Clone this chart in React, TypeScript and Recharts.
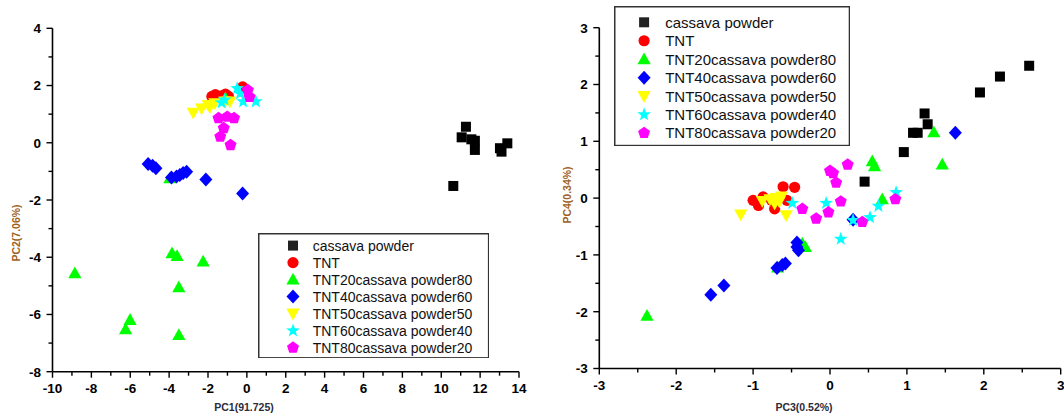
import React from 'react';
import { ScatterChart, Scatter, XAxis, YAxis, Legend } from 'recharts';

type Pt = { x: number; y: number };
const pts = (a: number[][]): Pt[] => a.map(([x, y]) => ({ x, y }));

// series info shared by both plots
const seriesNames = [
  'cassava powder',
  'TNT',
  'TNT20cassava powder80',
  'TNT40cassava powder60',
  'TNT50cassava powder50',
  'TNT60cassava powder40',
  'TNT80cassava powder20',
];
const seriesColors = ['#000000', '#ff0000', '#00ff00', '#0000ff', '#ffff00', '#00ffff', '#ff00ff'];
const seriesShapes = ['square', 'circle', 'triangle', 'diamond', 'triangleDown', 'star', 'pentagon'];

// PC1 / PC2 scores
const cassava12 = pts([[11.27, 0.56], [11.05, 0.19], [11.73, 0.07], [11.73, -0.25], [11.55, 0.12], [13.02, -0.19], [13.4, -0.02], [13.1, -0.31], [10.62, -1.51]]);
const tnt12 = pts([[-1.8, 1.62], [-1.62, 1.68], [-1.45, 1.6], [-1.3, 1.64], [-1.1, 1.7], [-0.95, 1.62], [-1.0, 1.56], [-0.22, 1.95]]);
const t20c80_12 = pts([[-8.85, -4.56], [-3.85, -3.86], [-3.59, -3.96], [-2.25, -4.15], [-3.5, -5.05], [-6.01, -6.19], [-6.24, -6.52], [-3.5, -6.72], [-3.96, -1.24], [-1.1, 1.55]]);
const t40c60_12 = pts([[-5.08, -0.74], [-4.85, -0.8], [-4.68, -0.89], [-3.88, -1.21], [-3.62, -1.18], [-3.45, -1.13], [-3.28, -1.06], [-3.1, -1.01], [-2.11, -1.28], [-0.22, -1.77]]);
const t50c50_12 = pts([[-2.76, 1.05], [-2.33, 1.2], [-1.99, 1.32], [-1.65, 1.38], [-1.13, 1.44], [-0.87, 1.44], [-1.9, 1.25]]);
const t60c40_12 = pts([[-1.3, 1.4], [-1.15, 1.5], [-0.5, 1.9], [-0.35, 1.72], [-0.19, 1.44], [0.46, 1.44]]);
const t80c20_12 = pts([[0.05, 1.84], [0.14, 1.6], [-1.46, 0.86], [-1.01, 0.91], [-0.66, 0.86], [-1.19, 0.51], [-1.37, 0.21], [-0.84, -0.08]]);

// PC3 / PC4 scores
const cassava34 = pts([[2.59, 2.33], [2.21, 2.14], [1.95, 1.86], [1.23, 1.49], [1.27, 1.3], [1.08, 1.15], [1.14, 1.15], [0.96, 0.81], [0.45, 0.29]]);
const tnt34 = pts([[-1.0, -0.04], [-0.93, -0.13], [-0.87, 0.02], [-0.72, -0.19], [-0.61, 0.2], [-0.46, 0.19], [-0.56, -0.04], [-0.76, -0.04]]);
const t20c80_34 = pts([[-2.38, -2.07], [-0.68, -1.22], [-0.32, -0.86], [-0.36, -0.8], [0.55, 0.65], [0.58, 0.56], [0.68, -0.02], [1.35, 1.16], [1.46, 0.59]]);
const t40c60_34 = pts([[-1.55, -1.7], [-1.38, -1.54], [-0.69, -1.23], [-0.62, -1.18], [-0.58, -1.15], [-0.43, -0.78], [-0.41, -0.92], [-0.43, -0.86], [0.3, -0.38], [1.63, 1.15]]);
const t50c50_34 = pts([[-1.16, -0.29], [-0.88, -0.05], [-0.78, -0.02], [-0.7, 0.0], [-0.63, 0.03], [-0.72, -0.1], [-0.57, -0.3], [-0.66, -0.06]]);
const t60c40_34 = pts([[-0.49, -0.09], [-0.05, -0.09], [0.14, -0.72], [0.3, -0.39], [0.52, -0.34], [0.63, -0.14], [0.86, 0.1]]);
const t80c20_34 = pts([[0.0, 0.48], [0.04, 0.44], [0.08, 0.27], [0.23, 0.59], [0.14, -0.06], [-0.02, -0.25], [-0.18, -0.36], [-0.36, -0.19], [0.42, -0.42], [0.85, -0.02]]);

const series12 = [cassava12, tnt12, t20c80_12, t40c60_12, t50c50_12, t60c40_12, t80c20_12];
const series34 = [cassava34, tnt34, t20c80_34, t40c60_34, t50c50_34, t60c40_34, t80c20_34];

// ticks (every minor position, labels only on majors)
const pc1Ticks = [-10, -9, -8, -7, -6, -5, -4, -3, -2, -1, 0, 1, 2, 3, 4, 5, 6, 7, 8, 9, 10, 11, 12, 13, 14];
const pc2Ticks = [-8, -7, -6, -5, -4, -3, -2, -1, 0, 1, 2, 3, 4];
const pc34Ticks = [-3, -2.5, -2, -1.5, -1, -0.5, 0, 0.5, 1, 1.5, 2, 2.5, 3];

const FONT = '"Liberation Sans", Arial, sans-serif';
const TS = 6;
const TM = 5.5;

function marker(kind: string, cx: number, cy: number, color: string, key?: string) {
  const r = 6;
  switch (kind) {
    case 'square':
      return <rect key={key} x={cx - 5} y={cy - 5} width={10} height={10} fill={color} />;
    case 'circle':
      return <circle key={key} cx={cx} cy={cy} r={5.6} fill={color} />;
    case 'triangle':
      return <polygon key={key} points={`${cx},${cy - 6.8} ${cx + 6.6},${cy + 5} ${cx - 6.6},${cy + 5}`} fill={color} />;
    case 'triangleDown':
      return <polygon key={key} points={`${cx},${cy + 6.8} ${cx + 6.6},${cy - 5} ${cx - 6.6},${cy - 5}`} fill={color} />;
    case 'diamond':
      return <polygon key={key} points={`${cx},${cy - 7} ${cx + 6.5},${cy} ${cx},${cy + 7} ${cx - 6.5},${cy}`} fill={color} />;
    case 'star': {
      const p: string[] = [];
      for (let i = 0; i < 10; i++) {
        const rr = i % 2 === 0 ? 7.2 : 2.9;
        const a = -Math.PI / 2 + (i * Math.PI) / 5;
        p.push(`${cx + rr * Math.cos(a)},${cy + rr * Math.sin(a)}`);
      }
      return <polygon key={key} points={p.join(' ')} fill={color} />;
    }
    default: {
      const p: string[] = [];
      for (let i = 0; i < 5; i++) {
        const a = -Math.PI / 2 + (i * 2 * Math.PI) / 5;
        p.push(`${cx + r * 1.05 * Math.cos(a)},${cy + r * 1.05 * Math.sin(a)}`);
      }
      return <polygon key={key} points={p.join(' ')} fill={color} />;
    }
  }
}

const xTick = (isMajor: (v: number) => boolean) => (props: any) => {
  const { x, y, payload } = props;
  const v = payload.value;
  const major = isMajor(v);
  const ay = y - TS - TM;
  return (
    <g>
      <line x1={x} x2={x} y1={ay} y2={ay + (major ? 6 : 4)} stroke="#000" strokeWidth={1.4} />
      {major && (
        <text x={x} y={y} dy="0.71em" textAnchor="middle" fontSize={13.5} fontWeight={700} fontFamily={FONT} fill="#000">
          {v}
        </text>
      )}
    </g>
  );
};

const yTick = (isMajor: (v: number) => boolean) => (props: any) => {
  const { x, y, payload } = props;
  const v = payload.value;
  const major = isMajor(v);
  const ax = x + TS + TM;
  return (
    <g>
      <line x1={ax} x2={ax - (major ? 6 : 4)} y1={y} y2={y} stroke="#000" strokeWidth={1.4} />
      {major && (
        <text x={x} y={y} dy="0.36em" textAnchor="end" fontSize={13.5} fontWeight={700} fontFamily={FONT} fill="#000">
          {v}
        </text>
      )}
    </g>
  );
};

const axisTitle = (text: string, cx: number, cy: number, color: string, vertical = false) => () => (
  <text
    x={cx}
    y={cy}
    dy="0.35em"
    textAnchor="middle"
    fontSize={10.5}
    fontWeight={700}
    fontFamily={FONT}
    fill={color}
    transform={vertical ? `rotate(-90, ${cx}, ${cy})` : undefined}
  >
    {text}
  </text>
);

const legendBox = (w: number, h: number, firstRow: number, step: number, mx: number, tx: number, fs: number) => () => (
  <svg width={w} height={h} style={{ display: 'block' }}>
    <rect x={0.75} y={0.75} width={w - 1.5} height={h - 1.5} fill="#fff" stroke="#333" strokeWidth={1.5} />
    {seriesNames.map((n, i) => (
      <g key={n}>
        {marker(seriesShapes[i], mx, firstRow + i * step, i === 0 ? '#222' : seriesColors[i])}
        <text x={tx} y={firstRow + i * step} dy="0.36em" fontSize={fs} fontFamily={FONT} fill="#111">
          {n}
        </text>
      </g>
    ))}
  </svg>
);

const axisLine = { stroke: '#000', strokeWidth: 1.6 };

export default function App() {
  return (
    <div style={{ position: 'absolute', left: 0, top: 0, width: 1064, height: 416, background: '#fff' }}>
      <div style={{ position: 'absolute', left: 0, top: 0 }}>
        <ScatterChart width={540} height={416} margin={{ top: 28.3, right: 21, bottom: 14.3, left: 7.5 }}>
          <XAxis
            type="number"
            dataKey="x"
            domain={[-10, 14]}
            ticks={pc1Ticks}
            interval={0}
            height={30}
            tickSize={TS}
            tickMargin={TM}
            tickLine={false}
            axisLine={axisLine}
            tick={xTick((v) => v % 2 === 0)}
            label={{ content: axisTitle('PC1(91.725)', 244, 407, '#2b2b3a') }}
          />
          <YAxis
            type="number"
            dataKey="y"
            domain={[-8, 4]}
            ticks={pc2Ticks}
            interval={0}
            width={45}
            tickSize={TS}
            tickMargin={TM}
            tickLine={false}
            axisLine={axisLine}
            tick={yTick((v) => v % 2 === 0)}
            label={{ content: axisTitle('PC2(7.06%)', 16, 233, '#a0601e', true) }}
          />
          {series12.map((d, i) => (
            <Scatter
              key={seriesNames[i]}
              name={seriesNames[i]}
              data={d}
              isAnimationActive={false}
              shape={(p: any) => marker(seriesShapes[i], p.cx, p.cy, seriesColors[i])}
            />
          ))}
          <Legend
            layout="vertical"
            align="center"
            verticalAlign="middle"
            wrapperStyle={{ left: 257.6, top: 232.7, width: 231.4, height: 125.6 }}
            content={legendBox(231.4, 125.6, 12.6, 17, 35, 54.7, 14)}
          />
        </ScatterChart>
      </div>
      <div style={{ position: 'absolute', left: 540, top: 0 }}>
        <ScatterChart width={524} height={416} margin={{ top: 27.7, right: 3.3, bottom: 17.5, left: 9.3 }}>
          <XAxis
            type="number"
            dataKey="x"
            domain={[-3, 3]}
            ticks={pc34Ticks}
            interval={0}
            height={30}
            tickSize={TS}
            tickMargin={TM}
            tickLine={false}
            axisLine={axisLine}
            tick={xTick((v) => Number.isInteger(v))}
            label={{ content: axisTitle('PC3(0.52%)', 264, 407, '#2b2b3a') }}
          />
          <YAxis
            type="number"
            dataKey="y"
            domain={[-3, 3]}
            ticks={pc34Ticks}
            interval={0}
            width={50}
            tickSize={TS}
            tickMargin={TM}
            tickLine={false}
            axisLine={axisLine}
            tick={yTick((v) => Number.isInteger(v))}
            label={{ content: axisTitle('PC4(0.34%)', 27, 195, '#a0601e', true) }}
          />
          {series34.map((d, i) => (
            <Scatter
              key={seriesNames[i]}
              name={seriesNames[i]}
              data={d}
              isAnimationActive={false}
              shape={(p: any) => marker(seriesShapes[i], p.cx, p.cy, seriesColors[i])}
            />
          ))}
          <Legend
            layout="vertical"
            align="center"
            verticalAlign="middle"
            wrapperStyle={{ left: 74.2, top: 5.7, width: 236.2, height: 140.3 }}
            content={legendBox(236.2, 140.3, 16.3, 18.45, 30.1, 51.2, 15)}
          />
        </ScatterChart>
      </div>
    </div>
  );
}
